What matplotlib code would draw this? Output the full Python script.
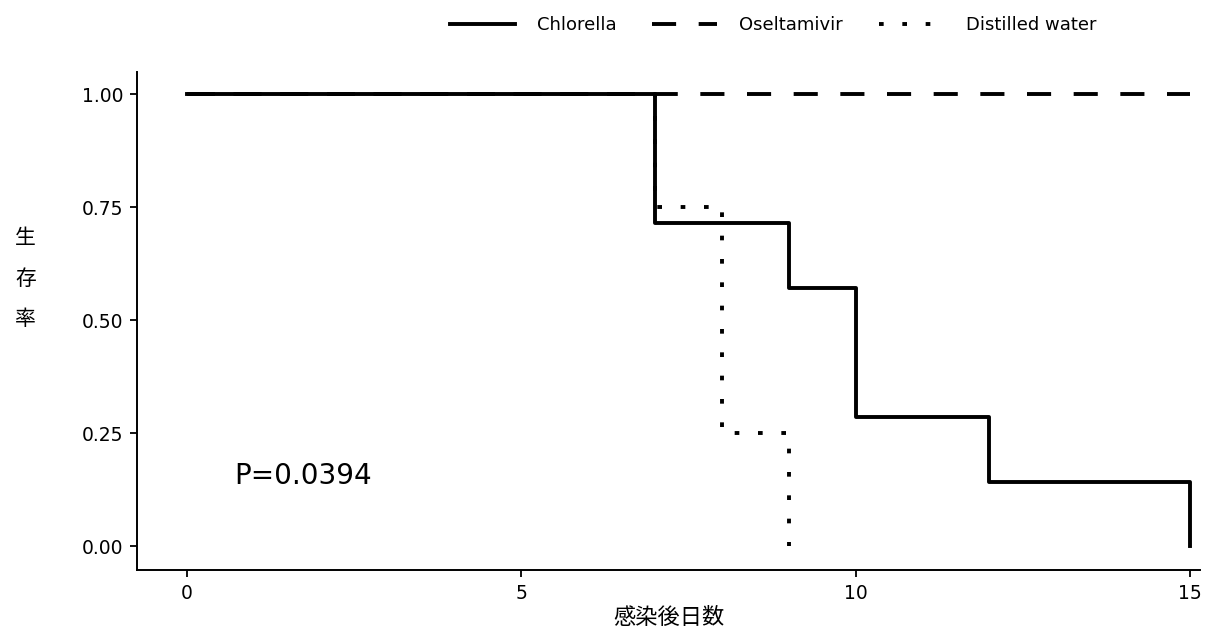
import numpy as np
import matplotlib.pyplot as plt

plt.rcParams['font.family'] = ['DejaVu Sans', 'Noto Sans CJK JP']

# survival step data (days, survival)
chl_t = [0, 7, 9, 10, 12, 15]
chl_s = [1.0, 5 / 7, 4 / 7, 2 / 7, 1 / 7, 0.0]
ose_t = [0, 15]
ose_s = [1.0, 1.0]
dw_t = [0, 7, 8, 9]
dw_s = [1.0, 0.75, 0.25, 0.0]

fig = plt.figure(figsize=(12.31, 6.27), dpi=100)
ax = fig.add_axes([0.1113, 0.0909, 0.8635, 0.794])

lw = 2.8
ax.step(dw_t, dw_s, where='post', color='black', lw=lw,
        linestyle=(0, (1.2, 4.8)), label='Distilled water')
ax.step(ose_t, ose_s, where='post', color='black', lw=lw,
        linestyle=(0, (6.2, 5.8)), label='Oseltamivir')
ax.step(chl_t, chl_s, where='post', color='black', lw=lw,
        label='Chlorella')

ax.set_xlim(-0.75, 15.15)
ax.set_ylim(-0.053, 1.049)
ax.set_xticks([0, 5, 10, 15])
ax.set_yticks([0, 0.25, 0.5, 0.75, 1.0])
ax.set_yticklabels(['0.00', '0.25', '0.50', '0.75', '1.00'])
ax.tick_params(labelsize=13.5, length=5, width=1.3, pad=5)
for s in ['top', 'right']:
    ax.spines[s].set_visible(False)
for s in ['left', 'bottom']:
    ax.spines[s].set_linewidth(1.4)

ax.set_xlabel('感染後日数', fontsize=16, family=['Noto Sans CJK JP'], labelpad=2)
ax.set_ylabel('生\n存\n率', fontsize=15, family=['Noto Sans CJK JP'],
              rotation=0, linespacing=2.1, va='center')
ax.yaxis.set_label_coords(-0.105, 0.585)

ax.text(0.7, 0.155, 'P=0.0394', fontsize=20, va='center')

h, l = ax.get_legend_handles_labels()
order = [2, 1, 0]
fig.legend([h[i] for i in order], [l[i] for i in order], loc='upper center',
           bbox_to_anchor=(0.628, 1.0), ncol=3, frameon=False, fontsize=13,
           handlelength=3.6, handletextpad=1.2, columnspacing=2.0)

fig.savefig('out.png', dpi=100)
